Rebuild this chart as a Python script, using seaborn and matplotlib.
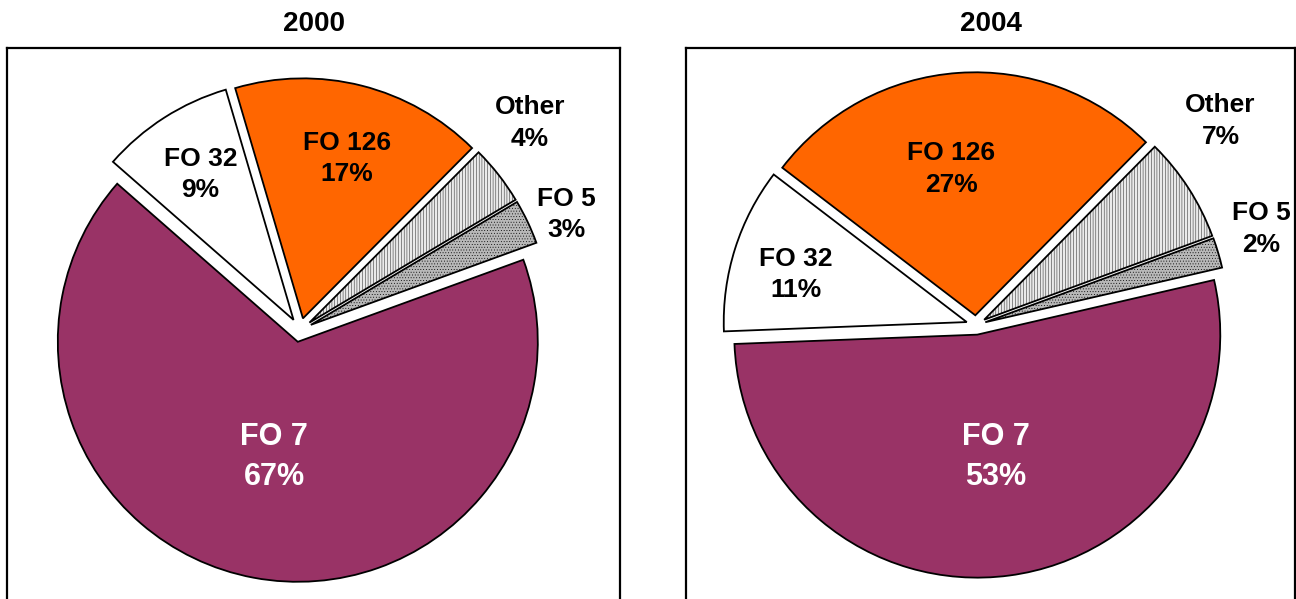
"""
Share of each FO group in 2000 and 2004, drawn as two exploded pies.
"""
import numpy as np
import matplotlib

matplotlib.use("Agg")
import matplotlib.pyplot as plt
import seaborn as sns

# Data
categories = ["FO 7", "FO 32", "FO 126", "Other", "FO 5"]
years = ["2000", "2004"]
shares_2000 = [67, 9, 17, 4, 3]
shares_2004 = [53, 11, 27, 7, 2]

# Styling per category
colors = ["#993366", "#FFFFFF", "#FF6600", "#EAEAEA", "#B8B8B8"]
hatches = [None, None, None, "||||||", "......"]
text_colors = ["white", "black", "black", "black", "black"]

sns.set_theme(style="white")
plt.rcParams["font.family"] = ["Liberation Sans", "DejaVu Sans"]
plt.rcParams["hatch.linewidth"] = 0.3

W, H = 1296, 599

# Layout of each panel in pixels (frame left/right, pie centre, radius)
panels = [
    dict(values=shares_2000, title=years[0], left=7, right=620,
         cx=300, cy=330, r=240, start=20, explode=0.05,
         label_dist=[0.54, 0.77, 0.74, 1.29, 1.21],
         label_shift=[-1, 0, -1, 4, -2]),
    dict(values=shares_2004, title=years[1], left=686, right=1295,
         cx=976, cy=325, r=243, start=13, explode=0.04,
         label_dist=[0.55, 0.77, 0.65, 1.31, 1.24],
         label_shift=[1, 2, 5, 7, 2]),
]
frame_top = 48

fig = plt.figure(figsize=(W / 100, H / 100), dpi=100)

for p in panels:
    ax = fig.add_axes([p["left"] / W, 0, (p["right"] - p["left"]) / W,
                       (H - frame_top) / H])
    wedges, _ = ax.pie(
        p["values"],
        colors=colors,
        startangle=p["start"],
        counterclock=False,
        explode=[p["explode"]] * len(p["values"]),
        wedgeprops=dict(edgecolor="black", linewidth=1.3),
    )
    for w, h in zip(wedges, hatches):
        if h:
            w.set_hatch(h)

    # labels at the middle angle of each wedge
    for i, w in enumerate(wedges):
        mid = np.deg2rad((w.theta1 + w.theta2) / 2 + p["label_shift"][i])
        d = p["label_dist"][i]
        big = i == 0
        ax.text(
            d * np.cos(mid), d * np.sin(mid),
            f"{categories[i]}\n{p['values'][i]}%",
            ha="center", va="center", multialignment="center",
            fontsize=22 if big else 19, fontweight="bold",
            color=text_colors[i], linespacing=1.42 if big else 1.4,
        )

    r = p["r"]
    ax.set_aspect("auto")
    ax.set_xlim((p["left"] - p["cx"]) / r, (p["right"] - p["cx"]) / r)
    ax.set_ylim((p["cy"] - H) / r, (p["cy"] - frame_top) / r)
    ax.set_frame_on(True)
    for side in ["left", "right", "top"]:
        ax.spines[side].set_visible(True)
        ax.spines[side].set_color("black")
        ax.spines[side].set_linewidth(1.6)
    ax.spines["bottom"].set_visible(False)
    ax.set_xticks([])
    ax.set_yticks([])
    ax.set_title(p["title"], fontsize=20, fontweight="bold", color="black",
                 pad=12)

fig.savefig("out.png", dpi=100)
